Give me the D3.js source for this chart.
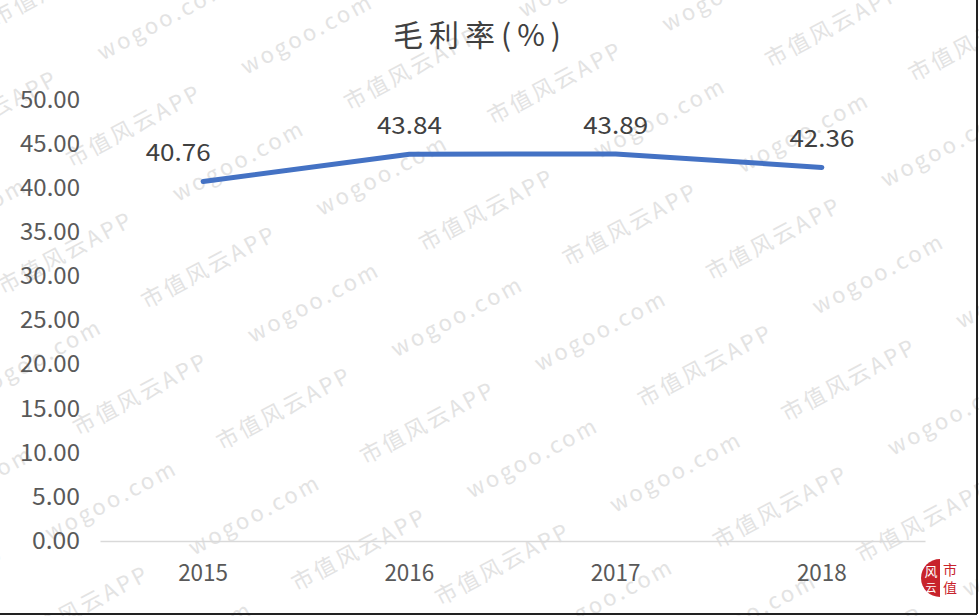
<!DOCTYPE html>
<html>
<head>
<meta charset="utf-8">
<script src="https://cdn.jsdelivr.net/npm/d3@7"></script>
<style>
  body { margin: 0; background: #fff; }
  text { font-family: "Noto Sans CJK SC", "Noto Sans", sans-serif; }
</style>
</head>
<body>
<div id="chart"></div>
<script>
// Data
const years = ["2015", "2016", "2017", "2018"];
const margins = [40.76, 43.84, 43.89, 42.36];
const yTicks = [0, 5, 10, 15, 20, 25, 30, 35, 40, 45, 50];

const width = 979;
const height = 616;
const margin = {top: 100, right: 54, bottom: 75, left: 100};
const innerWidth = width - margin.left - margin.right;
const innerHeight = height - margin.top - margin.bottom;

// narrow digit look: each character gets ~12px
const squeeze = (sel, per) => sel
  .attr("textLength", function() { return this.textContent.length * per; })
  .attr("lengthAdjust", "spacingAndGlyphs");

const svg = d3.select("#chart")
  .append("svg")
    .attr("width", width)
    .attr("height", height);

// watermark
const wm = svg.append("g")
  .attr("fill", "#e3e3e3")
  .attr("font-size", 22)
  .attr("transform", `rotate(-28, ${width / 2}, ${height / 2})`);
for (let r = -8; r <= 8; r++) {
  wm.append("text")
    .attr("x", -400 + (r % 2) * 120)
    .attr("y", height / 2 + r * 80)
    .attr("letter-spacing", 3)
    .attr("xml:space", "preserve")
    .text(d3.range(10).map(() => "wogoo.com      市值风云APP      ").join(""));
}

// frame lines on right and bottom
svg.append("line")
  .attr("x1", 0).attr("x2", 977).attr("y1", 614).attr("y2", 614)
  .attr("stroke", "#222").attr("stroke-width", 2);
svg.append("line")
  .attr("x1", 977).attr("x2", 977).attr("y1", 0).attr("y2", 614)
  .attr("stroke", "#222").attr("stroke-width", 2);

const innerChart = svg.append("g")
  .attr("transform", `translate(${margin.left}, ${margin.top})`);

// scales
const xScale = d3.scaleBand()
  .domain(years)
  .range([0, innerWidth]);

const yScale = d3.scaleLinear()
  .domain([0, 50])
  .range([innerHeight, 0]);

// title
svg.append("text")
  .attr("x", 480)
  .attr("y", 46)
  .attr("text-anchor", "middle")
  .attr("font-size", 30)
  .attr("letter-spacing", 6)
  .attr("fill", "#404040")
  .text("毛利率(%)");

// left axis (labels only)
const leftAxis = d3.axisLeft(yScale)
  .tickValues(yTicks)
  .tickSize(0)
  .tickPadding(20)
  .tickFormat(d3.format(".2f"));
innerChart.append("g")
  .attr("class", "axis-y")
  .call(leftAxis)
  .call(g => g.select(".domain").remove())
  .call(g => g.selectAll("text")
    .attr("font-size", 23)
    .attr("fill", "#595959")
    .style("font-family", "'Noto Sans CJK SC', sans-serif")
    .call(squeeze, 12));

// bottom axis
const bottomAxis = d3.axisBottom(xScale).tickSize(0).tickPadding(24);
innerChart.append("g")
  .attr("class", "axis-x")
  .attr("transform", `translate(0, ${innerHeight})`)
  .call(bottomAxis)
  .call(g => g.select(".domain").attr("stroke", "#d9d9d9").attr("stroke-width", 1.5))
  .call(g => g.selectAll("text")
    .attr("font-size", 23)
    .attr("fill", "#595959")
    .style("font-family", "'Noto Sans CJK SC', sans-serif")
    .call(squeeze, 12.5));

// line
const lineGen = d3.line()
  .x((d, i) => xScale(years[i]) + xScale.bandwidth() / 2)
  .y(d => yScale(d));

innerChart.append("path")
  .datum(margins)
  .attr("d", lineGen)
  .attr("fill", "none")
  .attr("stroke", "#4472C4")
  .attr("stroke-width", 5)
  .attr("stroke-linecap", "round")
  .attr("stroke-linejoin", "round");

// data labels (first one nudged left, clear of the rising line)
innerChart.selectAll(".label")
  .data(margins)
  .join("text")
    .attr("class", "label")
    .attr("x", (d, i) => xScale(years[i]) + xScale.bandwidth() / 2 - (i === 0 ? 25 : 0))
    .attr("y", d => yScale(d) - 20)
    .attr("text-anchor", "middle")
    .attr("font-size", 24)
    .attr("fill", "#404040")
    .call(squeeze, 13)
    .text(d => d.toFixed(2))
    .call(squeeze, 13);

// logo seal
const logo = svg.append("g").attr("transform", "translate(940, 578)");
logo.append("path")
  .attr("d", d3.arc()({innerRadius: 0, outerRadius: 19, startAngle: Math.PI, endAngle: 2 * Math.PI}))
  .attr("fill", "#c8232c");
logo.append("text")
  .attr("x", -9).attr("y", -2).attr("text-anchor", "middle")
  .attr("font-size", 13).attr("fill", "#fff").text("风");
logo.append("text")
  .attr("x", -9).attr("y", 14).attr("text-anchor", "middle")
  .attr("font-size", 11).attr("fill", "#fff").text("云");
logo.append("text")
  .attr("x", 10).attr("y", -3).attr("text-anchor", "middle")
  .attr("font-size", 14).attr("fill", "#c8232c").text("市");
logo.append("text")
  .attr("x", 10).attr("y", 15).attr("text-anchor", "middle")
  .attr("font-size", 14).attr("fill", "#c8232c").text("值");
</script>
</body>
</html>
